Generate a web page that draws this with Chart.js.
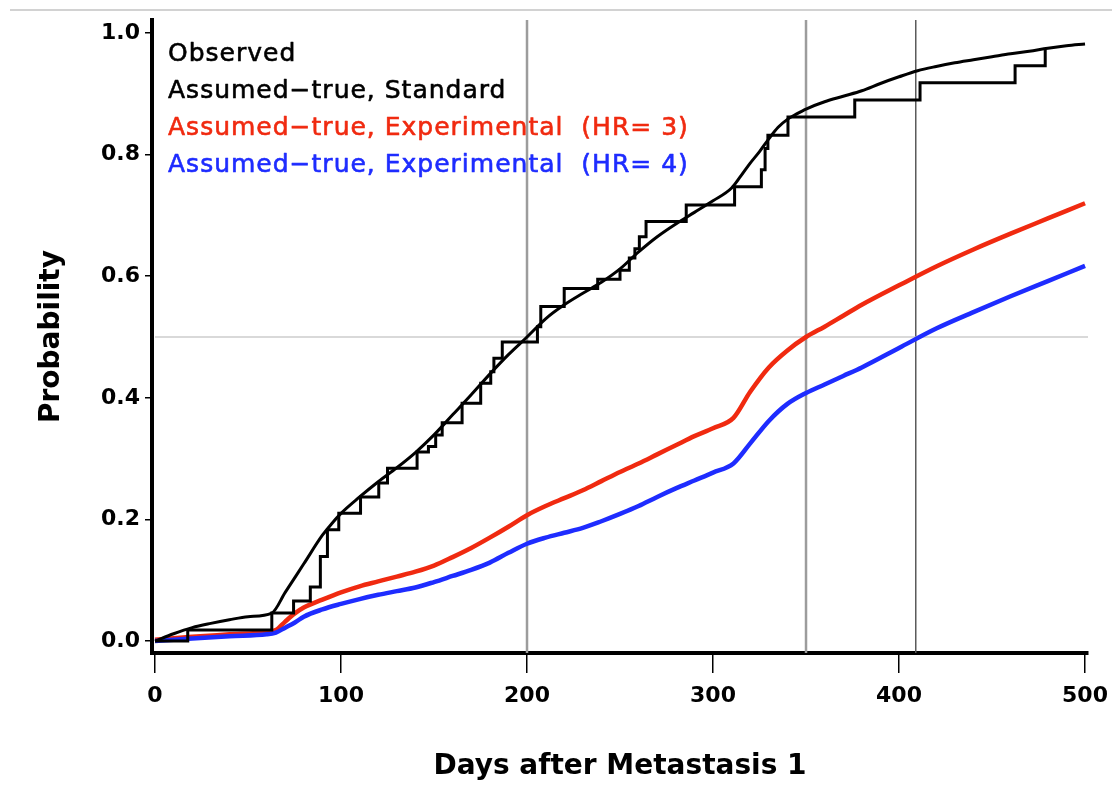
<!DOCTYPE html>
<html><head><meta charset="utf-8">
<script src="https://cdn.jsdelivr.net/npm/chart.js@4.4.1/dist/chart.umd.min.js"></script>
<style>
html,body{margin:0;padding:0;background:#fff;}
#wrap{position:relative;width:1112px;height:788px;overflow:hidden;}
#c{position:absolute;left:0;top:0;}
#topline{position:absolute;left:10px;right:0;top:9px;height:2px;background:#d2d2d2;}
</style></head><body>
<div id="wrap"><canvas id="c" width="1112" height="788"></canvas><div id="topline"></div></div>
<script>
// ---- data ----
const xTicks = [0, 100, 200, 300, 400, 500];
const yTicks = [0, 0.2, 0.4, 0.6, 0.8, 1.0];

const obsDays = [0, 17.6, 62.8, 74.5, 83.5, 88.9, 92.7, 98.8, 110.5, 120.3, 125, 140.9, 147, 150.9, 154.4, 165.1, 175.1, 180.5, 182.2, 186.7, 205.6, 207.4, 220, 238, 250, 255, 258, 260.4, 264, 285.6, 311.6, 326, 328, 329.5, 340.3, 376.2, 411.3, 462.4, 478.6];
const obsProb = [0, 0.018, 0.046, 0.066, 0.089, 0.139, 0.183, 0.21, 0.237, 0.26, 0.284, 0.311, 0.32, 0.339, 0.359, 0.391, 0.424, 0.443, 0.465, 0.492, 0.517, 0.55, 0.58, 0.595, 0.61, 0.63, 0.645, 0.665, 0.69, 0.717, 0.747, 0.775, 0.81, 0.832, 0.862, 0.89, 0.918, 0.946, 0.973];

const stdDays = [0, 10, 20, 30, 40, 50, 62.8, 70, 80, 90, 95, 100, 110, 120, 130, 140, 150, 160, 170, 180, 190, 200, 210, 220, 230, 240, 250, 260, 270, 280, 290, 300, 310, 315, 320, 325, 330, 335, 340, 345, 350, 360, 370, 380, 390, 400, 410, 420, 430, 440, 450, 460, 470, 480, 490, 500];
const stdProb = [0, 0.012, 0.022, 0.029, 0.035, 0.040, 0.046, 0.080, 0.127, 0.174, 0.193, 0.21, 0.237, 0.262, 0.285, 0.31, 0.339, 0.372, 0.405, 0.439, 0.471, 0.5, 0.53, 0.553, 0.572, 0.59, 0.612, 0.64, 0.665, 0.686, 0.705, 0.724, 0.745, 0.765, 0.786, 0.805, 0.826, 0.845, 0.858, 0.867, 0.875, 0.887, 0.896, 0.905, 0.917, 0.928, 0.938, 0.945, 0.951, 0.956, 0.961, 0.966, 0.97, 0.975, 0.979, 0.982];

const expDays = [0, 20, 40, 60, 65, 70, 75, 80, 90, 100, 110, 120, 130, 140, 150, 160, 170, 180, 190, 200, 210, 220, 230, 240, 250, 260, 270, 280, 290, 300, 311, 320, 330, 340, 350, 360, 370, 380, 400, 420, 440, 460, 480, 500];
const hr3Prob = [0.002, 0.007, 0.011, 0.015, 0.018, 0.032, 0.045, 0.055, 0.068, 0.08, 0.09, 0.098, 0.106, 0.114, 0.124, 0.138, 0.153, 0.17, 0.188, 0.207, 0.222, 0.235, 0.248, 0.263, 0.278, 0.292, 0.307, 0.322, 0.337, 0.35, 0.367, 0.41, 0.45, 0.478, 0.5, 0.517, 0.535, 0.553, 0.585, 0.616, 0.644, 0.67, 0.695, 0.72];
const hr4Prob = [0.0, 0.004, 0.008, 0.011, 0.014, 0.022, 0.03, 0.04, 0.052, 0.061, 0.069, 0.076, 0.082, 0.088, 0.097, 0.107, 0.117, 0.129, 0.145, 0.16, 0.17, 0.178, 0.186, 0.197, 0.209, 0.222, 0.237, 0.251, 0.264, 0.277, 0.292, 0.325, 0.362, 0.39, 0.408, 0.422, 0.436, 0.45, 0.482, 0.514, 0.541, 0.567, 0.592, 0.617];

const refDays = [200, 350, 409];
const refProb = [0.5];

const seriesLabels = ['Observed', 'Assumed\u2212true, Standard', 'Assumed\u2212true, Experimental  (HR= 3)', 'Assumed\u2212true, Experimental  (HR= 4)'];

// ---- helpers ----
const pts = (xs, ys) => xs.map((x, i) => ({x, y: ys[i]}));

const refLines = {
  id: 'refLines',
  beforeDatasetsDraw(chart) {
    const {ctx, chartArea: a, scales: {x, y}} = chart;
    ctx.save();
    const vStyles = [{c: '#9c9c9c', w: 2.5}, {c: '#9c9c9c', w: 2.5}, {c: '#5a5a5a', w: 1.5}];
    refDays.forEach((d, i) => {
      const px = x.getPixelForValue(d);
      ctx.strokeStyle = vStyles[i].c; ctx.lineWidth = vStyles[i].w;
      ctx.beginPath(); ctx.moveTo(px, a.top); ctx.lineTo(px, a.bottom); ctx.stroke();
    });
    refProb.forEach(p => {
      const py = y.getPixelForValue(p);
      ctx.strokeStyle = '#cccccc'; ctx.lineWidth = 1.5;
      ctx.beginPath(); ctx.moveTo(x.getPixelForValue(0), py); ctx.lineTo(a.right, py); ctx.stroke();
    });
    ctx.restore();
  }
};

const legendText = {
  id: 'legendText',
  afterDatasetsDraw(chart) {
    const {ctx, chartArea: a} = chart;
    ctx.save();
    ctx.font = '25px "DejaVu Sans"';
    try { ctx.letterSpacing = '1px'; } catch (e) {}
    ctx.textBaseline = 'alphabetic';
    ctx.textAlign = 'left';
    ctx.lineWidth = 0.6;
    ctx.lineJoin = 'round';
    chart.data.datasets.forEach((ds, i) => {
      ctx.fillStyle = ds.borderColor;
      ctx.strokeStyle = ds.borderColor;
      ctx.fillText(ds.label, a.left + 16, 61 + i * 37);
      ctx.strokeText(ds.label, a.left + 16, 61 + i * 37);
    });
    ctx.restore();
  }
};

const RED = '#f02a10', BLUE = '#1e2cff';

new Chart(document.getElementById('c'), {
  type: 'line',
  data: {
    datasets: [
      {label: seriesLabels[0], data: pts(obsDays, obsProb), borderColor: '#000', borderWidth: 3, stepped: 'before', pointRadius: 0, borderJoinStyle: 'miter', order: 0},
      {label: seriesLabels[1], data: pts(stdDays, stdProb), borderColor: '#000', borderWidth: 3, cubicInterpolationMode: 'monotone', pointRadius: 0, order: 1},
      {label: seriesLabels[2], data: pts(expDays, hr3Prob), borderColor: RED, borderWidth: 4.5, cubicInterpolationMode: 'monotone', pointRadius: 0, order: 3},
      {label: seriesLabels[3], data: pts(expDays, hr4Prob), borderColor: BLUE, borderWidth: 4.5, cubicInterpolationMode: 'monotone', pointRadius: 0, order: 2}
    ]
  },
  options: {
    responsive: false,
    animation: false,
    devicePixelRatio: 1,
    layout: {padding: {top: 20, right: 24, left: 0, bottom: 0}},
    plugins: {legend: {display: false}, tooltip: {enabled: false}},
    scales: {
      x: {
        type: 'linear',
        min: -1.613, max: 501.6,
        afterBuildTicks: s => { s.ticks = xTicks.map(v => ({value: v})); },
        afterFit: s => { s.height = 135; s.paddingLeft = 0; s.paddingRight = 0; },
        grid: {drawOnChartArea: false, drawTicks: true, tickLength: 20, color: '#000', lineWidth: 1.5},
        border: {display: true, color: '#000', width: 4},
        ticks: {font: {family: 'DejaVu Sans', weight: 'bold', size: 22}, color: '#000', padding: 10, maxRotation: 0, autoSkip: false, callback: v => String(v)},
        title: {display: true, text: 'Days after Metastasis 1', color: '#000', font: {family: 'DejaVu Sans', weight: 'bold', size: 28}, padding: {top: 0, bottom: 4}}
      },
      y: {
        type: 'linear',
        min: -0.0197, max: 1.0214,
        afterBuildTicks: s => { s.ticks = yTicks.map(v => ({value: v})); },
        afterFit: s => { s.width = 152; s.paddingTop = 0; s.paddingBottom = 0; },
        grid: {drawOnChartArea: false, drawTicks: true, tickLength: 7, color: '#000', lineWidth: 1.5},
        border: {display: true, color: '#000', width: 4},
        ticks: {font: {family: 'DejaVu Sans', weight: 'bold', size: 22}, color: '#000', padding: 5, autoSkip: false, callback: v => Number(v).toFixed(1)},
        title: {display: true, text: 'Probability', color: '#000', font: {family: 'DejaVu Sans', weight: 'bold', size: 28}, padding: {top: 35, bottom: 0}}
      }
    }
  },
  plugins: [refLines, legendText]
});
</script>
</body></html>
